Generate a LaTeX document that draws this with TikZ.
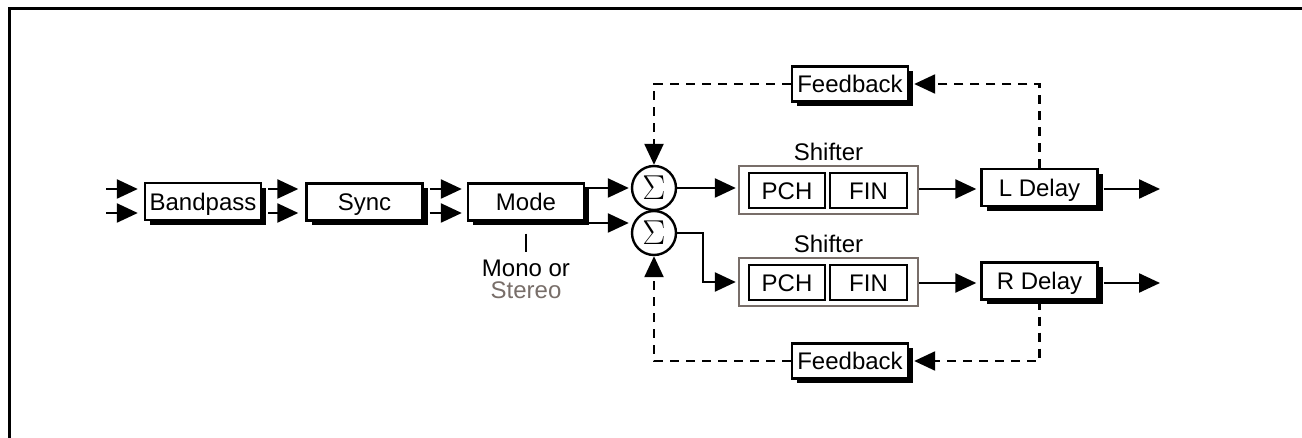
\documentclass[tikz,border=0pt]{standalone}
\usepackage{fontspec}
\setmainfont{Liberation Sans}
\usetikzlibrary{arrows.meta,shadows,calc}
\definecolor{shgrey}{RGB}{120,110,105}
\begin{document}
\begin{tikzpicture}[x=0.5pt,y=-0.5pt,
  txt/.style={font=\fontsize{12}{14}\selectfont},
  ctr/.style={text height=8.6pt,text depth=0pt},
  blk/.style={txt,ctr,draw,line width=1.2pt,fill=white,minimum height=18.5pt,minimum width=58pt,inner sep=0pt,
    drop shadow={shadow xshift=2.5pt,shadow yshift=-2.5pt,fill=black,opacity=1}},
  sub/.style={txt,ctr,draw,line width=1.2pt,fill=white,minimum height=17.5pt,inner sep=0pt},
  shf/.style={draw=shgrey,line width=1.2pt,minimum width=89.5pt,minimum height=24pt,inner sep=0pt},
  sig/.style={circle,draw,line width=1.2pt,minimum size=22pt,inner sep=0pt,font=\fontsize{16}{16}\selectfont},
  tip/.style={-{Triangle[length=10.5pt,width=9.5pt]}},
  arr/.style={line width=1.2pt,tip},
  ln/.style={line width=1.2pt},
  dsh/.style={line width=1.2pt,dash pattern=on 4.5pt off 3.5pt,tip},
  lbl/.style={txt,inner sep=0pt}]
\useasboundingbox (0,0) rectangle (1302,438);
\draw[line width=1.5pt] (9,438) -- (9,9) -- (1302,9);

% blocks
\node[blk] (bp) at (203,201.5) {Bandpass};
\node[blk] (sy) at (364.5,202) {Sync};
\node[blk] (md) at (526,202) {Mode};
\node[sig] (s1) at (654,188) {$\Sigma$};
\node[sig] (s2) at (654,233) {$\Sigma$};

\node[shf] (sh1) at (828.5,190) {};
\node[sub,minimum width=38pt] (p1) at (787,190.5) {PCH};
\node[sub,minimum width=38.5pt] (f1) at (868.5,190.5) {FIN};
\node[lbl] (t1) at (828.5,152) {Shifter};

\node[shf] (sh2) at (828.5,282) {};
\node[sub,minimum width=38pt] (p2) at (787,282.5) {PCH};
\node[sub,minimum width=38.5pt] (f2) at (868.5,282.5) {FIN};
\node[lbl] (t2) at (828.5,244) {Shifter};

\node[blk] (ld) at (1039.5,187.5) {L Delay};
\node[blk] (rd) at (1039.5,281) {R Delay};
\node[blk,minimum height=17.5pt] (fb1) at (850,84) {Feedback};
\node[blk,minimum height=17.5pt] (fb2) at (850,361) {Feedback};

\node[lbl] (mono) at (526,268.5) {Mono or};
\node[lbl,text=shgrey] (stereo) at (526,290) {Stereo};
\draw[ln] ([yshift=-6pt]md.south) -- ([yshift=4pt]mono.north);

% connectors
\coordinate (i1) at (106,189);
\coordinate (i2) at (106,213);
\coordinate (o1) at (1160,189);
\coordinate (o2) at (1160,283);
\draw[arr,shorten >=3pt] (i1) -- (bp.west |- i1);
\draw[arr,shorten >=3pt] (i2) -- (bp.west |- i2);
\draw[arr,shorten >=3.5pt] ([xshift=3pt]bp.east |- i1) -- (sy.west |- i1);
\draw[arr,shorten >=3.5pt] ([xshift=3pt]bp.east |- i2) -- (sy.west |- i2);
\draw[arr,shorten >=2.5pt] ([xshift=3pt]sy.east |- i1) -- (md.west |- i1);
\draw[arr,shorten >=2.5pt] ([xshift=3pt]sy.east |- i2) -- (md.west |- i2);

\draw[arr,shorten >=1pt] (md.east |- s1) -- (s1.west);
\draw[arr,shorten >=1pt] ([xshift=1.5pt]md.east |- s1) |- (s2.west |- 0,223);

\draw[arr,shorten >=1pt] (s1.east) -- (sh1.west |- s1);
\draw[arr,shorten >=1pt] (s2.east) -- ++(13pt,0) |- (sh2.west);

\draw[arr,shorten >=2pt] (sh1.east |- o1) -- (ld.west |- o1);
\draw[arr,shorten >=2pt] (sh2.east |- o2) -- (rd.west |- o2);
\draw[arr] ([xshift=2.5pt]ld.east |- o1) -- (o1);
\draw[arr] ([xshift=2.5pt]rd.east |- o2) -- (o2);

\draw[dsh] (ld.north) |- ([xshift=2.5pt]fb1.east);
\draw[dsh] (fb1.west) -| (s1.north);
\draw[dsh] (rd.south) |- ([xshift=2.5pt]fb2.east);
\draw[dsh] (fb2.west) -| (s2.south);
\end{tikzpicture}
\end{document}
